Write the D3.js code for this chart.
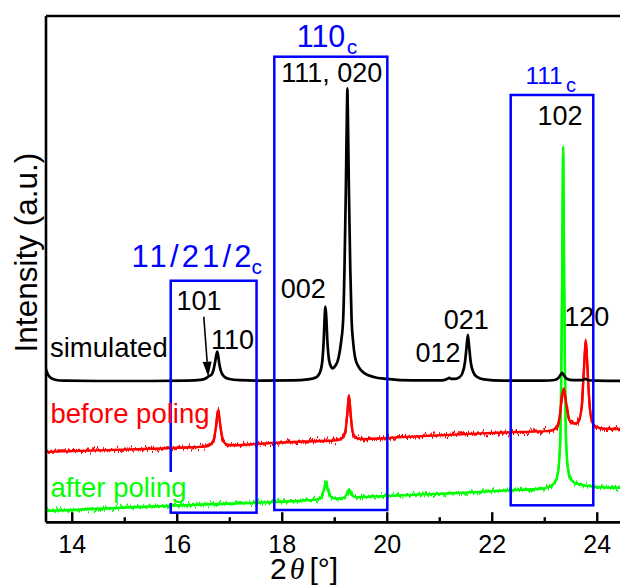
<!DOCTYPE html>
<html>
<head>
<meta charset="utf-8">
<script src="https://cdn.jsdelivr.net/npm/d3@7"></script>
<style>
  html, body { margin: 0; padding: 0; background: #fff; }
  svg { display: block; }
</style>
</head>
<body>
<svg id="chart" width="620" height="585"></svg>
<script>
// ---- data: 2θ (degrees) vs intensity (arbitrary units, offset per pattern) ----
const angleTicks = [14, 16, 18, 20, 22, 24];
const minorAngleTicks = [15, 17, 19, 21, 23];

const simulated = [
  [13.50, 30.4], [13.55, 29.0], [13.60, 28.4], [13.70, 28.0], [13.85, 27.85], [14.5, 27.8],
  [15.5, 27.8], [16.2, 27.85], [16.45, 28.0], [16.55, 28.3], [16.62, 28.8], [16.66, 29.0],
  [16.70, 30.0], [16.73, 31.5], [16.755, 33.0], [16.77, 33.6], [16.785, 33.0], [16.81, 31.2],
  [16.84, 29.8], [16.90, 28.7], [17.0, 28.2], [17.2, 27.95], [17.6, 27.85], [18.2, 27.9],
  [18.5, 28.1], [18.65, 28.5], [18.72, 29.3], [18.77, 31.5], [18.80, 36.0], [18.82, 41.0],
  [18.83, 42.5], [18.845, 41.0], [18.87, 35.5], [18.90, 32.0], [18.94, 30.6], [18.97, 30.3],
  [19.02, 30.8], [19.08, 32.3], [19.13, 35.5], [19.17, 40.0], [19.195, 50.0], [19.22, 65.0],
  [19.24, 80.0], [19.25, 85.6], [19.26, 80.0], [19.28, 65.0], [19.305, 50.0], [19.33, 40.0],
  [19.36, 35.5], [19.40, 32.3], [19.47, 30.5], [19.58, 29.3], [19.75, 28.6], [20.0, 28.2],
  [20.5, 27.9], [21.05, 27.9], [21.15, 28.2], [21.19, 28.4], [21.23, 28.2], [21.30, 28.2],
  [21.38, 28.5], [21.44, 29.3], [21.49, 31.5], [21.52, 34.5], [21.545, 36.9], [21.57, 34.5],
  [21.60, 31.5], [21.65, 29.5], [21.72, 28.6], [21.85, 28.1], [22.2, 27.85], [23.0, 27.85],
  [23.2, 28.0], [23.27, 28.4], [23.31, 29.0], [23.34, 29.4], [23.37, 29.0], [23.42, 28.3],
  [23.55, 27.95], [23.72, 27.95], [23.78, 28.2], [23.84, 27.95], [24.0, 27.85], [24.5, 27.8]
];

const beforePoling = [
  [13.50, 13.8], [14.5, 14.1], [15.5, 14.4], [16.3, 14.7], [16.55, 14.85], [16.65, 15.3],
  [16.71, 16.4], [16.75, 19.0], [16.79, 22.1], [16.83, 19.0], [16.87, 16.4], [16.93, 15.4],
  [17.05, 15.1], [17.8, 15.55], [18.6, 15.9], [19.05, 16.1], [19.15, 16.5], [19.21, 17.8],
  [19.25, 21.5], [19.28, 25.0], [19.31, 21.5], [19.35, 17.8], [19.41, 16.6], [19.55, 16.3],
  [20.26, 16.7], [21.0, 17.05], [21.8, 17.45], [22.6, 17.75], [23.10, 17.95], [23.22, 18.5],
  [23.29, 20.5], [23.33, 24.0], [23.37, 26.3], [23.41, 24.0], [23.46, 20.8], [23.52, 19.5],
  [23.60, 19.4], [23.67, 20.3], [23.72, 23.5], [23.76, 31.0], [23.79, 35.9], [23.82, 31.0],
  [23.86, 23.5], [23.91, 19.8], [23.98, 18.8], [24.1, 18.4], [24.5, 18.3]
];

const afterPoling = [
  [13.50, 2.1], [14.5, 2.55], [15.5, 3.0], [16.5, 3.4], [17.54, 3.75], [18.3, 4.1],
  [18.65, 4.35], [18.75, 4.8], [18.80, 6.2], [18.84, 7.9], [18.88, 6.3], [18.93, 5.0],
  [19.0, 4.6], [19.18, 4.7], [19.24, 5.5], [19.28, 6.3], [19.32, 5.4], [19.40, 4.85],
  [19.8, 5.0], [20.5, 5.3], [21.4, 5.7], [22.35, 6.2], [22.95, 6.5], [23.10, 6.9],
  [23.18, 7.5], [23.24, 8.6], [23.28, 11.5], [23.31, 18.0], [23.325, 30.0], [23.34, 47.0],
  [23.355, 70.0], [23.36, 74.1], [23.365, 70.0], [23.38, 47.0], [23.395, 30.0], [23.41, 18.0],
  [23.44, 11.5], [23.49, 8.8], [23.56, 7.8], [23.70, 7.3], [23.90, 7.0], [24.1, 6.8], [24.5, 6.7]
];

const seriesNames = ["simulated", "before poling", "after poling"];

// Miller-index annotations (position in 2θ / intensity units)
const peakLabels = [
  { text: "101", x: 16.424, y: 41.8 },
  { text: "110", x: 17.062, y: 34.1 },
  { text: "002", x: 18.41, y: 44.1 },
  { text: "111, 020", x: 18.951, y: 86.9 },
  { text: "012", x: 20.976, y: 31.6 },
  { text: "021", x: 21.513, y: 38.0 },
  { text: "102", x: 23.30, y: 78.4 },
  { text: "120", x: 23.809, y: 38.6 }
];

// pseudo-cubic reflection groups
const cubicGroups = [
  { label: "11/21/2", x0: 15.885, x1: 17.52, y0: 1.78, y1: 47.6 },
  { label: "110", x0: 17.858, x1: 20.011, y0: 2.31, y1: 91.86 },
  { label: "111", x0: 22.361, x1: 23.934, y0: 3.24, y1: 84.3 }
];

// arrow pointing at the weak 101 shoulder
const arrow101 = { from: [16.515, 40.5], to: [16.60, 28.65] };

// ---- layout ----
const W = 620, H = 585;
const plot = { left: 45.5, top: 15.5, bottom: 521.7 };
const x = d3.scaleLinear().domain([13.5, 24.5]).range([plot.left, plot.left + 11 * 52.5]);
const y = d3.scaleLinear().domain([0, 100]).range([plot.bottom, plot.top]);

const svg = d3.select("#chart");
const font = "'Liberation Sans', Arial, Helvetica, sans-serif";

const defs = svg.append("defs");
defs.append("clipPath").attr("id", "plotClip")
  .append("rect").attr("x", plot.left).attr("y", plot.top)
  .attr("width", W - plot.left).attr("height", plot.bottom - plot.top);

// detector noise texture for measured patterns
const noise = defs.append("filter").attr("id", "counting-noise")
  .attr("filterUnits", "userSpaceOnUse")
  .attr("x", 0).attr("y", 0).attr("width", W).attr("height", H)
  .attr("color-interpolation-filters", "sRGB");
noise.append("feTurbulence").attr("type", "fractalNoise")
  .attr("baseFrequency", "0.7 0.015").attr("numOctaves", 3).attr("seed", 7).attr("result", "n");
noise.append("feColorMatrix").attr("in", "n").attr("type", "matrix")
  .attr("values", "0 0 0 0 0.5  0 1.3 0 0 -0.15  0 0 0 0 0  0 0 0 0 1").attr("result", "m");
noise.append("feDisplacementMap").attr("in", "SourceGraphic").attr("in2", "m")
  .attr("scale", 8).attr("xChannelSelector", "R").attr("yChannelSelector", "G");

const line = d3.line().x(d => x(d[0])).y(d => y(d[1])).curve(d3.curveMonotoneX);

const curves = svg.append("g").attr("clip-path", "url(#plotClip)");
function measured(data, color) {
  // solid trace plus a jittered copy for the counting noise
  curves.append("path").datum(data)
    .attr("d", line).attr("fill", "none").attr("stroke", color).attr("stroke-width", 2.4)
    .attr("stroke-linejoin", "round");
  curves.append("path").datum(data)
    .attr("d", line).attr("fill", "none").attr("stroke", color).attr("stroke-width", 2.2)
    .attr("stroke-linejoin", "round").attr("filter", "url(#counting-noise)");
}
measured(afterPoling, "#00ff00");
measured(beforePoling, "#ff0000");
curves.append("path").datum(simulated)
  .attr("d", line).attr("fill", "none").attr("stroke", "#000").attr("stroke-width", 2.7)
  .attr("stroke-linejoin", "round");

// ---- axes ----
const axisStyle = g => {
  g.select(".domain").attr("stroke", "#000").attr("stroke-width", 2.6);
  g.selectAll(".tick line").attr("stroke", "#000").attr("stroke-width", 2.4);
  g.selectAll(".tick text").attr("font-family", font).attr("font-size", 25).attr("fill", "#000");
};
svg.append("g").attr("transform", `translate(0,${plot.bottom})`)
  .call(d3.axisBottom(x).tickValues(minorAngleTicks).tickSizeInner(-4.5).tickSizeOuter(0).tickFormat(""))
  .call(axisStyle);
svg.append("g").attr("transform", `translate(0,${plot.bottom})`)
  .call(d3.axisBottom(x).tickValues(angleTicks).tickSizeInner(-9.5).tickSizeOuter(0)
    .tickPadding(13.5).tickFormat(d3.format("d")))
  .call(axisStyle);
svg.append("g").attr("transform", `translate(0,${plot.top})`)
  .call(d3.axisTop(x).tickValues([]).tickSizeOuter(0)).call(axisStyle);
svg.append("g").attr("transform", `translate(${plot.left},0)`)
  .call(d3.axisLeft(y).tickValues([]).tickSizeOuter(0)).call(axisStyle);

// axis titles
svg.append("text")
  .attr("transform", `translate(36.5,${(plot.top + plot.bottom) / 2 - 16}) rotate(-90)`)
  .attr("text-anchor", "middle").attr("font-family", font).attr("font-size", 31.5)
  .attr("fill", "#000").text("Intensity (a.u.)");

const xt = svg.append("text").attr("x", 270).attr("y", 578.5)
  .attr("font-family", font).attr("font-size", 30).attr("fill", "#000");
xt.append("tspan").text("2");
xt.append("tspan").attr("dx", 3).attr("font-family", "'Liberation Serif', 'DejaVu Serif', serif")
  .attr("font-style", "italic").text("θ");
xt.append("tspan").attr("dx", 5).text("[°]");

// ---- pseudo-cubic group boxes ----
svg.append("g").selectAll("rect").data(cubicGroups).join("rect")
  .attr("x", d => x(d.x0)).attr("y", d => y(d.y1))
  .attr("width", d => x(d.x1) - x(d.x0)).attr("height", d => y(d.y0) - y(d.y1))
  .attr("fill", "none").attr("stroke", "#0000ff").attr("stroke-width", 2.5);

// group titles (subscript c = cubic)
function groupTitle(xStart, baseline, size, main, subX, subSize, spread) {
  const t = svg.append("text").attr("font-family", font).attr("fill", "#0000ff");
  const m = t.append("tspan").attr("x", xStart).attr("y", baseline).attr("font-size", size).text(main);
  if (spread) m.attr("textLength", spread).attr("lengthAdjust", "spacing");
  t.append("tspan").attr("x", subX).attr("y", baseline + 7.5).attr("font-size", subSize).text("c");
}
groupTitle(131.5, 266.7, 31, cubicGroups[0].label, 251.5, 21, 120);
groupTitle(296.7, 46.7, 30.5, cubicGroups[1].label, 346.8, 21, null);
groupTitle(525.5, 84, 24.5, cubicGroups[2].label, 566, 20, null);

// ---- peak labels ----
svg.append("g").selectAll("text").data(peakLabels).join("text")
  .attr("x", d => x(d.x)).attr("y", d => y(d.y))
  .attr("text-anchor", "middle").attr("font-family", font).attr("font-size", 27)
  .attr("fill", "#000").text(d => d.text);

// arrow to 101 shoulder
const ax0 = x(arrow101.from[0]), ay0 = y(arrow101.from[1]);
const ax1 = x(arrow101.to[0]), ay1 = y(arrow101.to[1]);
const ang = Math.atan2(ay1 - ay0, ax1 - ax0);
const headLen = 15, headHalf = 4.5;
const bx = ax1 - headLen * Math.cos(ang), by = ay1 - headLen * Math.sin(ang);
svg.append("line").attr("x1", ax0).attr("y1", ay0).attr("x2", bx).attr("y2", by)
  .attr("stroke", "#000").attr("stroke-width", 1.6);
svg.append("path")
  .attr("d", `M${ax1},${ay1}L${bx + headHalf * Math.sin(ang)},${by - headHalf * Math.cos(ang)}` +
             `L${bx - headHalf * Math.sin(ang)},${by + headHalf * Math.cos(ang)}Z`)
  .attr("fill", "#000");

// ---- pattern names ----
const nameStyle = [
  { x: 50, y: 357.3, color: "#000", bg: false },
  { x: 50.5, y: 423.3, color: "#ff0000", bg: false },
  { x: 50.5, y: 497, color: "#00ff00", bg: true }
];
seriesNames.forEach((name, i) => {
  const s = nameStyle[i];
  const g = svg.append("g");
  const t = g.append("text").attr("x", s.x).attr("y", s.y).attr("font-family", font)
    .attr("font-size", 27.5).attr("fill", s.color).text(name);
  if (s.bg) {
    const b = t.node().getBBox();
    g.insert("rect", "text").attr("x", b.x - 1).attr("y", b.y).attr("width", b.width + 2)
      .attr("height", b.height).attr("fill", "#fff");
  }
});
</script>
</body>
</html>
